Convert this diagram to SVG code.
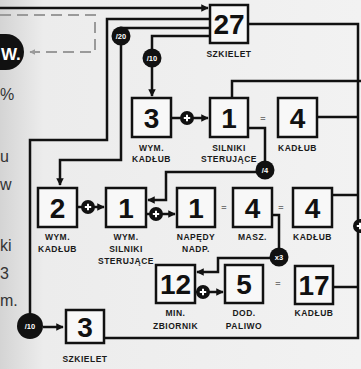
<svg xmlns="http://www.w3.org/2000/svg" width="361" height="369" viewBox="0 0 361 369">
<defs>
<linearGradient id="bg" x1="0" y1="0" x2="1" y2="0">
<stop offset="0" stop-color="#d4d4d4"/>
<stop offset="0.12" stop-color="#ececec"/>
<stop offset="1" stop-color="#f2f2f2"/>
</linearGradient>
<marker id="ar" viewBox="0 0 10 10" refX="9" refY="5" markerWidth="3" markerHeight="3" orient="auto" markerUnits="strokeWidth">
<path d="M0,0 L10,5 L0,10 z" fill="#111"/>
</marker>
<marker id="arg" viewBox="0 0 10 10" refX="9" refY="5" markerWidth="3" markerHeight="3" orient="auto" markerUnits="strokeWidth">
<path d="M0,0 L10,5 L0,10 z" fill="#9a9a9a"/>
</marker>
<g id="plus">
<circle r="7" fill="#111"/>
<path d="M-3.2,0 H3.2 M0,-3.2 V3.2" stroke="#fff" stroke-width="2"/>
</g>
</defs>
<style>
.ln{fill:none;stroke:#111;stroke-width:2.5}
.bx{fill:#f8f8f8;stroke:#111;stroke-width:2.5}
.num{font-family:"Liberation Sans",Arial,sans-serif;font-weight:bold;font-size:28px;fill:#111;text-anchor:middle}
.lb{font-family:"Liberation Sans",Arial,sans-serif;font-weight:bold;font-size:8.5px;letter-spacing:0.5px;fill:#1a1a1a;text-anchor:middle}
.ct{font-family:"Liberation Sans",Arial,sans-serif;font-weight:bold;font-size:7.5px;fill:#fff;text-anchor:middle}
.eq{font-family:"Liberation Sans",Arial,sans-serif;font-weight:bold;font-size:9px;fill:#777;text-anchor:middle}
.side{font-family:"Liberation Sans Narrow","Liberation Sans",sans-serif;font-size:16px;fill:#333}
</style>
<rect width="361" height="369" fill="url(#bg)"/>

<g id="sidetext">
<g>
<rect x="-20" y="34" width="44" height="36" rx="18" fill="#111"/>
<text x="1" y="60" font-family="Liberation Sans,Arial,sans-serif" font-weight="bold" font-size="17" fill="#fff">W.</text>
</g>
<text class="side" x="0" y="100">%</text>
<text class="side" x="0" y="162">u</text>
<text class="side" x="0" y="190">w</text>
<text class="side" x="0" y="251">ki</text>
<text class="side" x="0" y="279">3</text>
<text class="side" x="0" y="306">m.</text>
</g>

<g id="connectors">
<path d="M0,15 H95 V52 H30" fill="none" stroke="#9a9a9a" stroke-width="2" stroke-dasharray="11,6" marker-end="url(#arg)"/>
<path class="ln" d="M0,8 H208" marker-end="url(#ar)"/>
<path class="ln" d="M30,316 V140 H107 V19 H210"/>
<path class="ln" d="M210,28 H121 V160 H60 V185" marker-end="url(#ar)"/>
<path class="ln" d="M210,36 H152 V96" marker-end="url(#ar)"/>
<path class="ln" d="M248,24 H358 V338 H104"/>
<path class="ln" d="M362,81 H232 V98"/>
<path class="ln" d="M317,117 H358"/>
<path class="ln" d="M171,118 H208" marker-end="url(#ar)"/>
<path class="ln" d="M248,128 H265 V172 H166 V200 H148" marker-end="url(#ar)"/>
<path class="ln" d="M77,207 H104" marker-end="url(#ar)"/>
<path class="ln" d="M146,214 H175" marker-end="url(#ar)"/>
<path class="ln" d="M332,195 H358"/>
<path class="ln" d="M272,215 H279 V258 H218 V272 H197" marker-end="url(#ar)"/>
<path class="ln" d="M195,292 H223" marker-end="url(#ar)"/>
<path class="ln" d="M333,287 H358"/>
<path class="ln" d="M43,327 H63" marker-end="url(#ar)"/>
</g>

<g id="op-plus-1"><use href="#plus" x="187" y="118"/></g>
<g id="op-plus-2"><use href="#plus" x="88" y="207"/></g>
<g id="op-plus-3"><use href="#plus" x="156" y="214"/></g>
<g id="op-plus-4"><use href="#plus" x="203" y="292"/></g>
<g id="op-plus-5"><use href="#plus" x="360" y="226"/></g>

<g id="eqs">
<text class="eq" x="263" y="122">=</text>
<text class="eq" x="224" y="211">=</text>
<text class="eq" x="281" y="211">=</text>
<text class="eq" x="278" y="287">=</text>
</g>

<g id="c20"><circle cx="121" cy="36" r="9.5" fill="#111"/><text class="ct" x="121" y="38.5">/20</text></g>
<g id="c10a"><circle cx="152" cy="58" r="9.5" fill="#111"/><text class="ct" x="152" y="60.5">/10</text></g>
<g id="c4"><circle cx="265" cy="170" r="9.5" fill="#111"/><text class="ct" x="265" y="172.5">/4</text></g>
<g id="cx3"><circle cx="279" cy="257" r="9.5" fill="#111"/><text class="ct" x="279" y="259.5">x3</text></g>
<g id="c10b"><circle cx="30" cy="326" r="13" fill="#111"/><text class="ct" x="30" y="329" font-size="9">/10</text></g>

<g id="n-szkielet27"><rect class="bx" x="210" y="5" width="38" height="38"/><text class="num" x="229" y="34" font-size="26">27</text><text class="lb" x="229" y="57">SZKIELET</text></g>
<g id="n-wymkadlub3"><rect class="bx" x="132" y="98" width="39" height="39"/><text class="num" x="151.5" y="128">3</text><text class="lb" x="151.5" y="151">WYM.</text><text class="lb" x="151.5" y="162">KADŁUB</text></g>
<g id="n-silniki1"><rect class="bx" x="210" y="98" width="38" height="39"/><text class="num" x="229" y="128">1</text><text class="lb" x="229" y="151">SILNIKI</text><text class="lb" x="229" y="162">STERUJĄCE</text></g>
<g id="n-kadlub4a"><rect class="bx" x="278" y="98" width="39" height="39"/><text class="num" x="297.5" y="128">4</text><text class="lb" x="297.5" y="151">KADŁUB</text></g>

<g id="n-wymkadlub2"><rect class="bx" x="38" y="188" width="39" height="39"/><text class="num" x="57.5" y="218">2</text><text class="lb" x="57.5" y="240">WYM.</text><text class="lb" x="57.5" y="252">KADŁUB</text></g>
<g id="n-wymsilniki1"><rect class="bx" x="106" y="188" width="40" height="39"/><text class="num" x="126" y="218">1</text><text class="lb" x="126" y="240">WYM.</text><text class="lb" x="126" y="252">SILNIKI</text><text class="lb" x="126" y="264">STERUJĄCE</text></g>
<g id="n-napedy1"><rect class="bx" x="177" y="188" width="38" height="39"/><text class="num" x="196" y="218">1</text><text class="lb" x="196" y="240">NAPĘDY</text><text class="lb" x="196" y="252">NADP.</text></g>
<g id="n-masz4"><rect class="bx" x="233" y="188" width="39" height="39"/><text class="num" x="252.5" y="218">4</text><text class="lb" x="252.5" y="240">MASZ.</text></g>
<g id="n-kadlub4b"><rect class="bx" x="293" y="188" width="39" height="39"/><text class="num" x="312.5" y="218">4</text><text class="lb" x="312.5" y="240">KADŁUB</text></g>

<g id="n-zbiornik12"><rect class="bx" x="156" y="265" width="39" height="38"/><text class="num" x="175.5" y="294" font-size="26">12</text><text class="lb" x="175.5" y="316">MIN.</text><text class="lb" x="175.5" y="329">ZBIORNIK</text></g>
<g id="n-paliwo5"><rect class="bx" x="225" y="265" width="38" height="38"/><text class="num" x="244" y="294">5</text><text class="lb" x="244" y="316">DOD.</text><text class="lb" x="244" y="329">PALIWO</text></g>
<g id="n-kadlub17"><rect class="bx" x="295" y="266" width="38" height="38"/><text class="num" x="314" y="295" font-size="26">17</text><text class="lb" x="314" y="316">KADŁUB</text></g>

<g id="n-szkielet3"><rect class="bx" x="66" y="310" width="38" height="33"/><text class="num" x="85" y="337">3</text><text class="lb" x="85" y="362">SZKIELET</text></g>
</svg>
